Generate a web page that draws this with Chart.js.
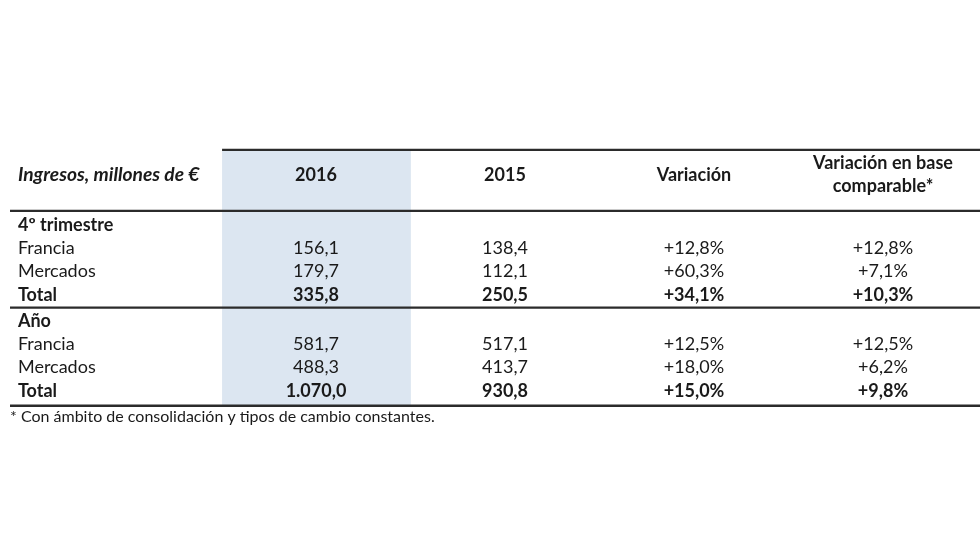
<!DOCTYPE html>
<html><head><meta charset="utf-8">
<script src="https://cdn.jsdelivr.net/npm/chart.js@4/dist/chart.umd.min.js"></script>
<style>html,body{margin:0;padding:0;background:#fff}#wrap{width:980px;height:560px}</style>
</head><body><div id="wrap"><canvas id="c" width="980" height="560"></canvas></div>
<script>
// ---- data ----
const headerLabel = 'Ingresos, millones de €';
const columnHeaders = [['2016'], ['2015'], ['Variación'], ['Variación en base', 'comparable*']];
const groupNames = ['4º trimestre', 'Año'];
const rowNames = ['Francia', 'Mercados', 'Total'];
const q4_2016 = [156.1, 179.7, 335.8];
const q4_2015 = [138.4, 112.1, 250.5];
const q4_var = [12.8, 60.3, 34.1];
const q4_varComp = [12.8, 7.1, 10.3];
const year_2016 = [581.7, 488.3, 1070.0];
const year_2015 = [517.1, 413.7, 930.8];
const year_var = [12.5, 18.0, 15.0];
const year_varComp = [12.5, 6.2, 9.8];
const footnote = '* Con ámbito de consolidación y tipos de cambio constantes.';

// ---- formatting ----
function fmtNum(v) {
  const parts = v.toFixed(1).split('.');
  const int = parts[0].replace(/\B(?=(\d{3})+(?!\d))/g, '.');
  return int + ',' + parts[1];
}
function fmtPct(v) { return (v >= 0 ? '+' : '') + v.toFixed(1).replace('.', ',') + '%'; }

// ---- layout in scale units ----
const FONT = 'Lato';
const TEXT = '#1a1a1a';
const LINE = '#2b2b2b';
const SHADE = '#dce6f1';
const ROW_GAP = 4.12;        // rows between group starts
const LABEL_X = -0.577;      // left-aligned label column
const LEFT_X = -0.619;       // table left edge
const HEADER_Y = -2.146;

const groupsData = [
  [q4_2016, q4_2015, q4_var, q4_varComp],
  [year_2016, year_2015, year_var, year_varComp]
];

const datasets = [];
const labelPts = [];
const colPts = [[], [], [], []];
groupNames.forEach((g, gi) => {
  const base = gi * ROW_GAP;
  labelPts.push({ x: LABEL_X, y: base, text: g, bold: true });
  rowNames.forEach((r, ri) => {
    const isTotal = ri === rowNames.length - 1;
    labelPts.push({ x: LABEL_X, y: base + ri + 1, text: r, bold: isTotal });
    groupsData[gi].forEach((col, ci) => {
      const v = col[ri];
      colPts[ci].push({ x: ci + 1, y: base + ri + 1, text: ci < 2 ? fmtNum(v) : fmtPct(v), bold: isTotal });
    });
  });
});
labelPts.push({ x: LABEL_X, y: HEADER_Y, text: headerLabel, bold: true, italic: true });
datasets.push({ data: labelPts, align: 'left' });
colPts.forEach((pts, ci) => {
  const hdr = columnHeaders[ci];
  if (hdr.length === 1) pts.push({ x: ci + 1, y: HEADER_Y, text: hdr[0], bold: true });
  else {
    pts.push({ x: ci + 1, y: HEADER_Y - 0.5, text: hdr[0], bold: true });
    pts.push({ x: ci + 1, y: HEADER_Y + 0.5, text: hdr[1], bold: true });
  }
  datasets.push({ data: pts, align: 'center' });
});
datasets.push({ data: [{ x: LEFT_X, y: 8.24, text: footnote, small: true }], align: 'left' });
datasets.forEach(d => { d.pointRadius = 0; d.pointHoverRadius = 0; });

const tablePlugin = {
  id: 'table',
  beforeDatasetsDraw(chart) {
    const { ctx, scales: { x, y } } = chart;
    ctx.save();
    const x0 = x.getPixelForValue(0.503), x1 = x.getPixelForValue(1.502);
    const yTop = y.getPixelForValue(-3.22), yBot = y.getPixelForValue(7.76);
    ctx.fillStyle = SHADE;
    ctx.fillRect(x0, yTop, x1 - x0, yBot - yTop);
    ctx.strokeStyle = LINE;
    ctx.lineWidth = 2.2;
    const hline = (xa, xb, yv) => {
      const py = y.getPixelForValue(yv);
      ctx.beginPath(); ctx.moveTo(x.getPixelForValue(xa), py); ctx.lineTo(x.getPixelForValue(xb), py); ctx.stroke();
    };
    hline(0.503, x.max, -3.22);
    hline(LEFT_X, x.max, -0.61);
    hline(LEFT_X, x.max, 3.55);
    ctx.lineWidth = 2.6;
    hline(LEFT_X, x.max, 7.76);
    ctx.restore();
  },
  afterDatasetsDraw(chart) {
    const { ctx } = chart;
    ctx.save();
    ctx.fillStyle = TEXT;
    ctx.textBaseline = 'middle';
    chart.data.datasets.forEach((ds, di) => {
      const meta = chart.getDatasetMeta(di);
      ctx.textAlign = ds.align;
      meta.data.forEach((el, i) => {
        const p = ds.data[i];
        const size = p.small ? 16 : (p.italic ? 19.2 : 18);
        ctx.font = (p.italic ? 'italic ' : '') + (p.bold ? 'bold ' : '') + size + 'px ' + FONT;
        ctx.fillText(p.text, el.x, el.y);
      });
    });
    ctx.restore();
  }
};

new Chart(document.getElementById('c'), {
  type: 'scatter',
  data: { datasets },
  options: {
    responsive: false,
    animation: false,
    layout: { padding: 0 },
    scales: {
      x: { type: 'linear', display: false, min: 1 - 316 / 189, max: 1 + 664 / 189 },
      y: { type: 'linear', display: false, reverse: true, min: -225 / 23.3, max: (560 - 225) / 23.3 }
    },
    plugins: { legend: { display: false }, tooltip: { enabled: false } },
    events: []
  },
  plugins: [tablePlugin]
});
</script>
</body></html>
